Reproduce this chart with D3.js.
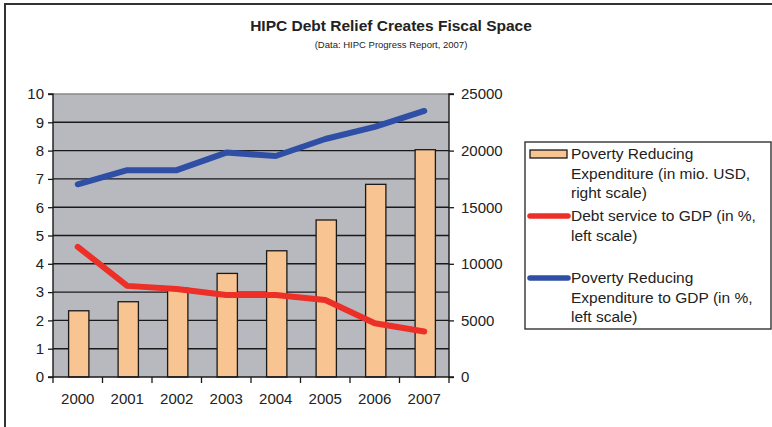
<!DOCTYPE html>
<html>
<head>
<meta charset="utf-8">
<script src="https://cdn.jsdelivr.net/npm/d3@7/dist/d3.min.js"></script>
<style>
  body { margin: 0; background: #fff; }
  svg text { font-family: "Liberation Sans", Arial, sans-serif; fill: #222; }
</style>
</head>
<body>
<script>
(function () {

  let years = ['2000', '2001', '2002', '2003', '2004', '2005', '2006', '2007'];

  // mio. USD, right scale
  let expenditure = [5850, 6650, 7850, 9150, 11150, 13870, 17020, 20080];
  // % of GDP, left scale
  let debtService = [4.6, 3.22, 3.11, 2.9, 2.9, 2.72, 1.9, 1.61];
  let expenditureGdp = [6.81, 7.31, 7.31, 7.93, 7.81, 8.41, 8.84, 9.40];

  let leftTicks = [0, 1, 2, 3, 4, 5, 6, 7, 8, 9, 10];
  let rightTicks = [0, 5000, 10000, 15000, 20000, 25000];

  let legendItems = [
    { kind: 'bar', color: '#f8c491', lines: ['Poverty Reducing', 'Expenditure (in mio. USD,', 'right scale)'] },
    { kind: 'line', color: '#ec2f27', lines: ['Debt service to GDP (in %,', 'left scale)'] },
    { kind: 'line', color: '#2f4ea6', lines: ['Poverty Reducing', 'Expenditure to GDP (in %,', 'left scale)'] }
  ];

  function go() {
    let width = 772, height = 427;
    let plot = { left: 53, top: 94, right: 449, bottom: 377 };

    let svg = d3.select('body').append('svg')
        .attr('width', width)
        .attr('height', height);

    // outer frame
    svg.append('rect')
      .attr('x', 5).attr('y', 4)
      .attr('width', 800).attr('height', 500)
      .attr('fill', 'none')
      .attr('stroke', '#333')
      .attr('stroke-width', 2);

    svg.append('text')
      .attr('x', 391).attr('y', 31)
      .attr('text-anchor', 'middle')
      .style('font-size', '15.5px')
      .style('font-weight', 'bold')
      .text('HIPC Debt Relief Creates Fiscal Space');

    svg.append('text')
      .attr('x', 391).attr('y', 48)
      .attr('text-anchor', 'middle')
      .style('font-size', '9.5px')
      .text('(Data: HIPC Progress Report, 2007)');

    let x = d3.scaleBand().domain(years).range([plot.left, plot.right]);
    let yLeft = d3.scaleLinear().domain([0, 10]).range([plot.bottom, plot.top]);
    let yRight = d3.scaleLinear().domain([0, 25000]).range([plot.bottom, plot.top]);

    svg.append('rect')
      .attr('x', plot.left).attr('y', plot.top)
      .attr('width', plot.right - plot.left)
      .attr('height', plot.bottom - plot.top)
      .attr('fill', '#b8b9be');

    // gridlines
    svg.append('g').selectAll('line')
      .data(leftTicks.slice(1, -1))
      .enter().append('line')
      .attr('x1', plot.left).attr('x2', plot.right)
      .attr('y1', d => yLeft(d)).attr('y2', d => yLeft(d))
      .attr('stroke', '#1a1a1a')
      .attr('stroke-width', 1.4);

    svg.append('line')
      .attr('x1', plot.left).attr('x2', plot.right)
      .attr('y1', plot.top).attr('y2', plot.top)
      .attr('stroke', '#888')
      .attr('stroke-width', 1.4);

    // bars
    let barW = x.bandwidth() * 0.41;
    svg.append('g').selectAll('rect')
      .data(years)
      .enter().append('rect')
      .attr('x', d => x(d) + x.bandwidth() / 2 - barW / 2 + 1)
      .attr('y', (d, i) => yRight(expenditure[i]))
      .attr('width', barW)
      .attr('height', (d, i) => yRight(0) - yRight(expenditure[i]))
      .attr('fill', '#f8c491')
      .attr('stroke', '#1a1a1a')
      .attr('stroke-width', 1.3);

    let line = d3.line()
      .x((d, i) => x(years[i]) + x.bandwidth() / 2)
      .y(d => yLeft(d));

    svg.append('path')
      .datum(debtService)
      .attr('d', line)
      .attr('fill', 'none')
      .attr('stroke', '#ec2f27')
      .attr('stroke-width', 6)
      .attr('stroke-linecap', 'round')
      .attr('stroke-linejoin', 'round');

    svg.append('path')
      .datum(expenditureGdp)
      .attr('d', line)
      .attr('fill', 'none')
      .attr('stroke', '#2f4ea6')
      .attr('stroke-width', 6)
      .attr('stroke-linecap', 'round')
      .attr('stroke-linejoin', 'round');

    // axes
    let leftAxis = d3.axisLeft(yLeft).tickValues(leftTicks).tickSize(5).tickPadding(4);
    let gl = svg.append('g')
      .attr('transform', 'translate(' + plot.left + ',0)')
      .call(leftAxis);

    let rightAxis = d3.axisRight(yRight).tickValues(rightTicks)
      .tickFormat(d3.format('d')).tickSize(5).tickPadding(7);
    let gr = svg.append('g')
      .attr('transform', 'translate(' + plot.right + ',0)')
      .call(rightAxis);

    let bottomAxis = d3.axisBottom(x).tickSize(0).tickPadding(16);
    let gb = svg.append('g')
      .attr('transform', 'translate(0,' + plot.bottom + ')')
      .call(bottomAxis);

    // category boundary ticks
    let bounds = years.map(d => x(d)).concat([plot.right]);
    gb.selectAll('line.bound')
      .data(bounds)
      .enter().append('line')
      .attr('class', 'bound')
      .attr('x1', d => d).attr('x2', d => d)
      .attr('y1', 0).attr('y2', 6)
      .attr('stroke', '#1a1a1a')
      .attr('stroke-width', 1.3);

    [gl, gr, gb].forEach(function (g) {
      g.select('.domain').attr('stroke', '#1a1a1a').attr('stroke-width', 1.4);
      g.selectAll('.tick line').attr('stroke', '#1a1a1a').attr('stroke-width', 1.3);
      g.selectAll('.tick text')
        .style('font-size', '15px')
        .style('font-family', '"Liberation Sans", Arial, sans-serif')
        .attr('fill', '#222');
    });
    gl.select('.domain').attr('d', 'M-5,' + plot.top + 'H0V' + plot.bottom + 'H-5');
    gr.select('.domain').attr('d', 'M5,' + plot.top + 'H0V' + plot.bottom + 'H5');
    gb.select('.domain').attr('d', 'M' + plot.left + ',0H' + plot.right);

    // legend
    let legend = svg.append('g');
    legend.append('rect')
      .attr('x', 525).attr('y', 142)
      .attr('width', 246).attr('height', 187)
      .attr('fill', '#fff')
      .attr('stroke', '#333')
      .attr('stroke-width', 1.4);

    let rowY = [154, 216, 278];
    legendItems.forEach(function (item, i) {
      let cy = rowY[i];
      if (item.kind === 'bar') {
        legend.append('rect')
          .attr('x', 530).attr('y', cy - 4)
          .attr('width', 37).attr('height', 8)
          .attr('fill', item.color)
          .attr('stroke', '#1a1a1a')
          .attr('stroke-width', 1.3);
      } else {
        legend.append('line')
          .attr('x1', 530).attr('x2', 568)
          .attr('y1', cy).attr('y2', cy)
          .attr('stroke', item.color)
          .attr('stroke-width', 5.5)
          .attr('stroke-linecap', 'round');
      }
      item.lines.forEach(function (t, j) {
        legend.append('text')
          .attr('x', 571)
          .attr('y', cy + 5 + j * 19.5)
          .style('font-size', '15.5px')
          .text(t);
      });
    });
  }

  document.addEventListener('DOMContentLoaded', go);

})();
</script>
</body>
</html>
